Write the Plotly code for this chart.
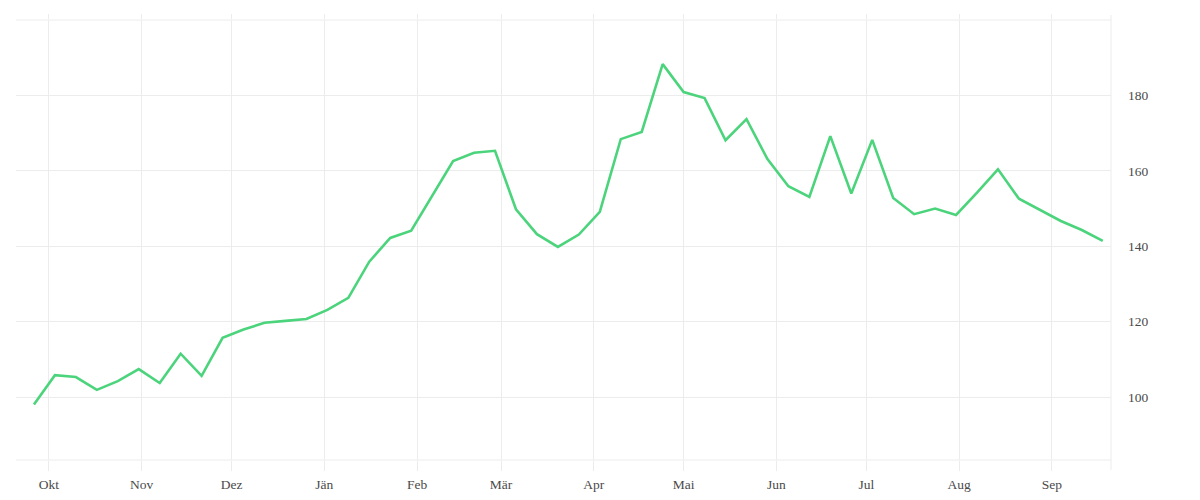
import plotly.graph_objects as go
import pandas as pd

# Weekly values
start_date = "2021-09-26"
values = [98.0, 105.8, 105.3, 101.9, 104.2, 107.4, 103.7, 111.5, 105.6, 115.7,
          117.9, 119.7, 120.2, 120.7, 123.1, 126.3, 135.9, 142.2, 144.1, 153.3,
          162.6, 164.8, 165.3, 149.8, 143.2, 139.8, 143.1, 149.1, 168.4, 170.3,
          188.3, 180.9, 179.3, 168.1, 173.7, 163.1, 155.9, 153.1, 169.2, 154.0,
          168.2, 152.8, 148.5, 150.0, 148.3, 154.2, 160.4, 152.6, 149.7, 146.7,
          144.3, 141.4]
dates = pd.date_range(start_date, periods=len(values), freq="7D")

month_ticks = ["2021-10-01", "2021-11-01", "2021-12-01", "2022-01-01", "2022-02-01",
               "2022-03-01", "2022-04-01", "2022-05-01", "2022-06-01", "2022-07-01",
               "2022-08-01", "2022-09-01"]
month_labels = ["Okt", "Nov", "Dez", "Jän", "Feb", "Mär", "Apr", "Mai", "Jun", "Jul",
                "Aug", "Sep"]
y_ticks = [100, 120, 140, 160, 180]
y_labels = ["100", "120", "140", "160", "180"]

GRID = "#ececec"
FONT = dict(family="Liberation Serif", size=13.5, color="#4a4a4a")

fig = go.Figure()
fig.add_trace(go.Scatter(x=dates, y=values, mode="lines",
                         line=dict(color="#4cd47c", width=2.6),
                         hoverinfo="skip", showlegend=False))

x_range = ["2021-09-20 00:00", "2022-09-20 18:00"]
fig.update_layout(
    width=1200, height=500,
    margin=dict(l=8, r=97, t=7, b=48),
    paper_bgcolor="white", plot_bgcolor="white",
    font=FONT,
    xaxis=dict(range=x_range, tickmode="array", tickvals=month_ticks,
               ticktext=month_labels, showgrid=True, gridcolor=GRID, gridwidth=1,
               ticks="outside", ticklen=10, tickcolor=GRID, tickwidth=1,
               ticklabelstandoff=2,
               showline=False, zeroline=False, tickfont=FONT),
    xaxis2=dict(range=x_range, overlaying="x", side="top", matches="x",
                tickmode="array", tickvals=month_ticks, showticklabels=False,
                ticks="outside", ticklen=5, tickcolor=GRID, tickwidth=1,
                showgrid=False, showline=False, zeroline=False),
    yaxis=dict(range=[83.3, 200], side="right", tickmode="array",
               tickvals=y_ticks, ticktext=y_labels, showgrid=True, gridcolor=GRID,
               gridwidth=1, ticks="", ticklabelstandoff=16, zeroline=False,
               showline=False, tickfont=FONT),
)
# frame lines: top, bottom, right edge (extending like the tick marks)
fig.add_shape(type="line", xref="paper", yref="paper", x0=0, x1=1, y0=1, y1=1,
              line=dict(color=GRID, width=1), layer="below")
fig.add_shape(type="line", xref="paper", yref="paper", x0=0, x1=1, y0=0, y1=0,
              line=dict(color=GRID, width=1), layer="below")
fig.add_shape(type="line", xref="paper", yref="paper", x0=1, x1=1, y0=-0.0227, y1=1.0113,
              line=dict(color=GRID, width=1), layer="below")
# invisible trace so the top tick axis renders
fig.add_trace(go.Scatter(x=[dates[0]], y=[values[0]], xaxis="x2", mode="markers",
                         marker=dict(opacity=0), hoverinfo="skip", showlegend=False))

fig.write_html("out.html")
